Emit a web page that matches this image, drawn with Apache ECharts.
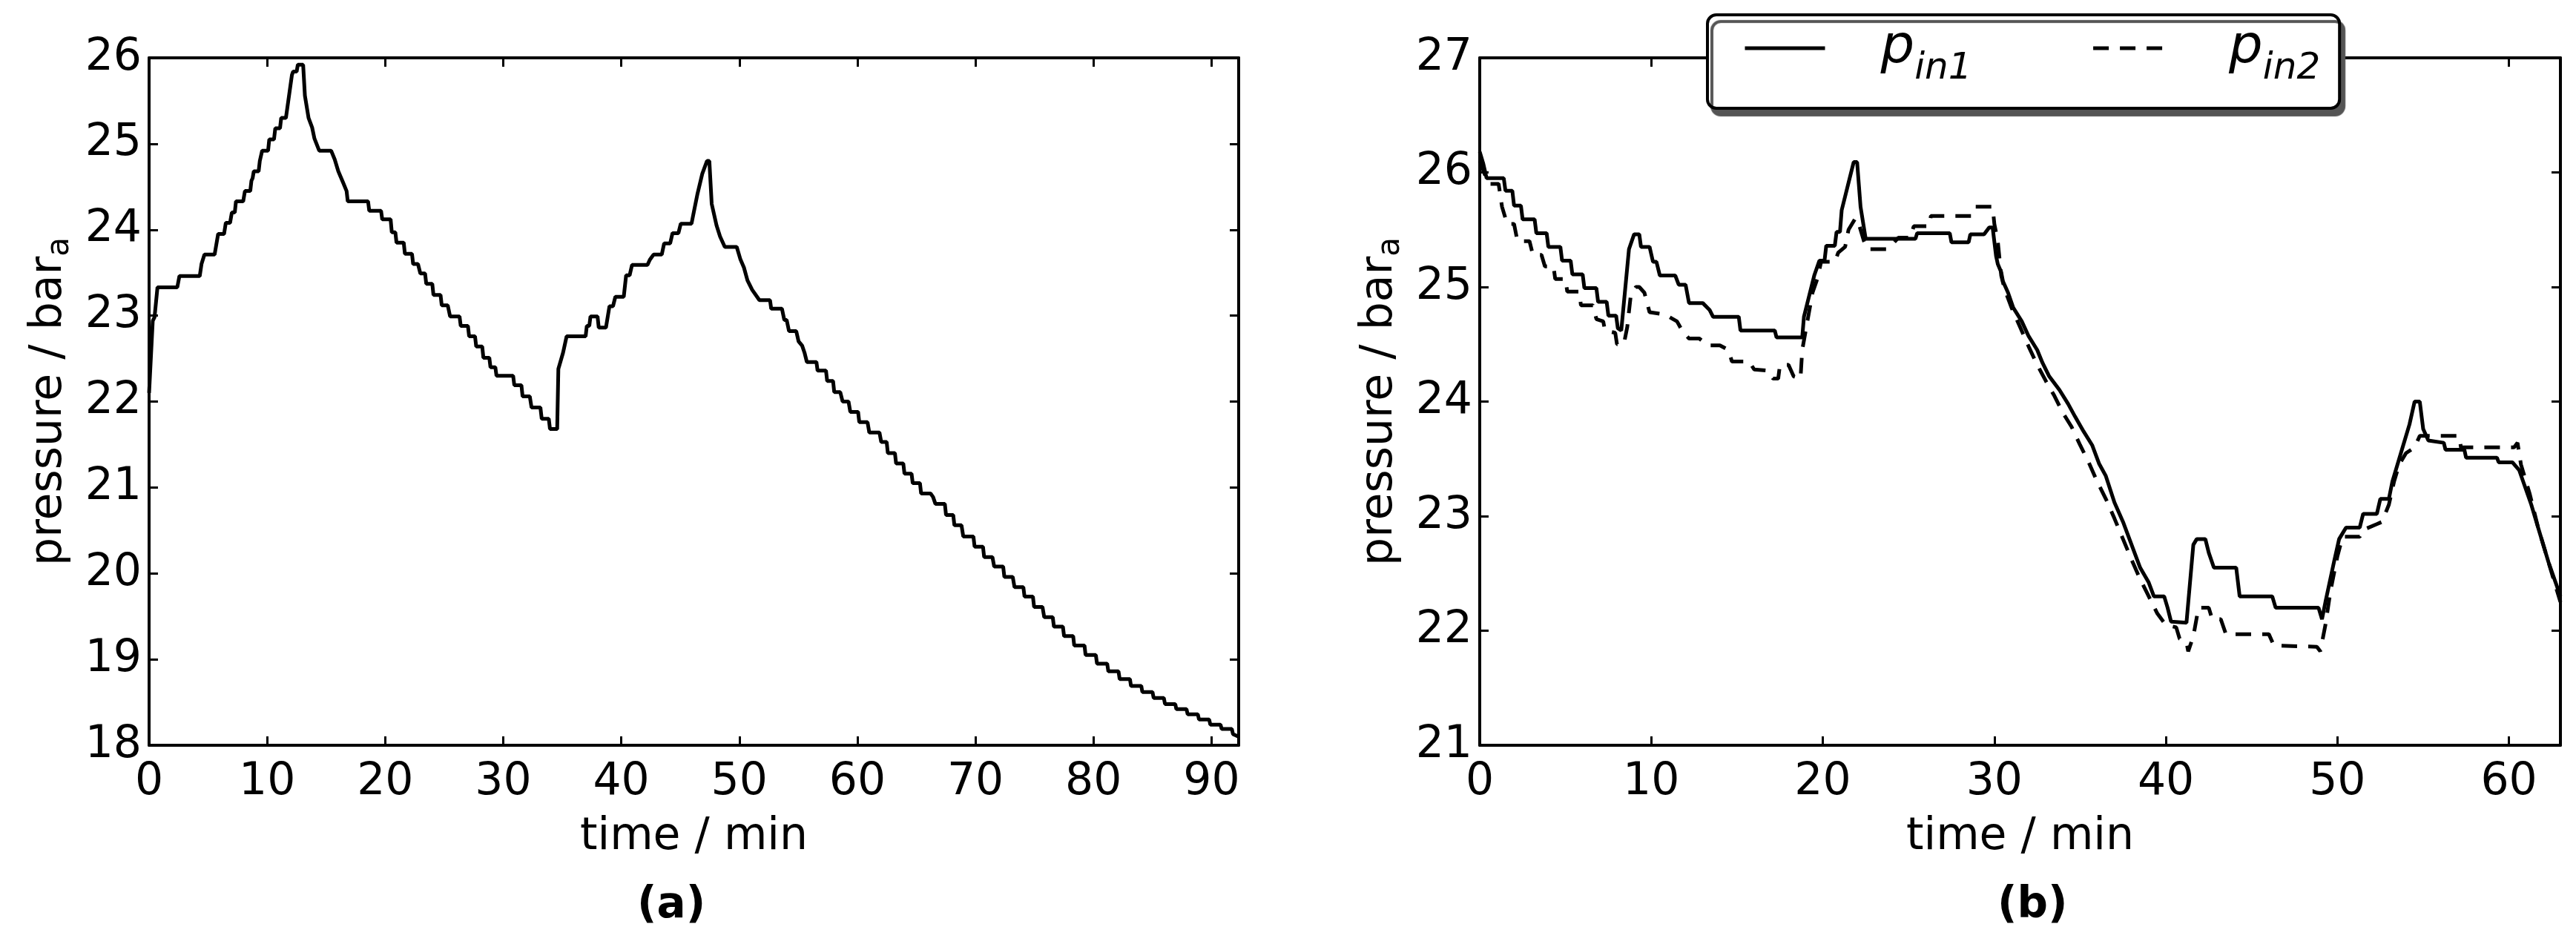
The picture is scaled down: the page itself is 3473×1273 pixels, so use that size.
<!DOCTYPE html>
<html>
<head>
<meta charset="utf-8">
<title>pressure vs time</title>
<script src="https://cdn.jsdelivr.net/npm/echarts@6/dist/echarts.min.js"></script>
<style>
html, body { margin: 0; padding: 0; background: #fff; }
#chart { width: 3473px; height: 1273px; }
</style>
</head>
<body>
<div id="chart"></div>
<script>
// (a) one run, [time / min, pressure / bar_a]
const runA = [
  [0, 22.1], [0.31, 22.94], [0.46, 22.98], [0.71, 23.33], [2.39, 23.33], [2.57, 23.46], [4.29, 23.46],
  [4.44, 23.6], [4.69, 23.71], [5.55, 23.71], [5.7, 23.83], [5.85, 23.95], [6.35, 23.95], [6.5, 24.08],
  [6.86, 24.08], [7.01, 24.2], [7.26, 24.2], [7.36, 24.33], [7.97, 24.33], [8.12, 24.45], [8.57, 24.45],
  [8.67, 24.57], [8.77, 24.6], [8.87, 24.68], [9.28, 24.68], [9.38, 24.8], [9.48, 24.8], [9.58, 24.92],
  [10.08, 24.92], [10.18, 25.05], [10.58, 25.05], [10.69, 25.18], [11.09, 25.18], [11.19, 25.3], [11.59, 25.3],
  [12.1, 25.8], [12.2, 25.84], [12.5, 25.84], [12.6, 25.92], [13.05, 25.92], [13.2, 25.56], [13.51, 25.3],
  [13.81, 25.19], [14.01, 25.06], [14.41, 24.92], [15.42, 24.92], [15.72, 24.82], [16.03, 24.68], [16.43, 24.55],
  [16.73, 24.45], [16.83, 24.33], [18.55, 24.33], [18.65, 24.22], [19.65, 24.22], [19.75, 24.12], [20.46, 24.12],
  [20.56, 23.97], [20.86, 23.97], [20.96, 23.85], [21.57, 23.85], [21.67, 23.72], [22.27, 23.72], [22.37, 23.6],
  [22.78, 23.6], [22.98, 23.49], [23.38, 23.49], [23.48, 23.37], [23.99, 23.37], [24.09, 23.24], [24.69, 23.24],
  [24.79, 23.12], [25.3, 23.12], [25.5, 22.99], [26.3, 22.99], [26.4, 22.88], [27.01, 22.88], [27.11, 22.76],
  [27.61, 22.76], [27.71, 22.64], [28.22, 22.64], [28.32, 22.51], [28.82, 22.51], [28.92, 22.4], [29.33, 22.4],
  [29.43, 22.3], [30.84, 22.3], [30.94, 22.19], [31.54, 22.19], [31.64, 22.06], [32.25, 22.06], [32.4, 21.93],
  [33.15, 21.93], [33.26, 21.8], [33.86, 21.8], [33.96, 21.68], [34.57, 21.68], [34.67, 22.38], [35.07, 22.57],
  [35.37, 22.76], [36.98, 22.76], [37.08, 22.88], [37.29, 22.88], [37.39, 22.99], [37.99, 22.99], [38.09, 22.86],
  [38.7, 22.86], [39.0, 23.11], [39.3, 23.11], [39.5, 23.22], [40.21, 23.22], [40.41, 23.47], [40.71, 23.47],
  [40.91, 23.59], [42.22, 23.59], [42.42, 23.65], [42.73, 23.71], [43.43, 23.71], [43.63, 23.84], [44.14, 23.84],
  [44.34, 23.96], [44.84, 23.96], [45.04, 24.07], [45.95, 24.07], [46.15, 24.21], [46.46, 24.42], [46.86, 24.65],
  [47.26, 24.8], [47.46, 24.8], [47.66, 24.3], [48.07, 24.05], [48.37, 23.92], [48.77, 23.8], [49.78, 23.8],
  [50.08, 23.66], [50.39, 23.56], [50.69, 23.41], [51.09, 23.3], [51.7, 23.18], [52.6, 23.18], [52.7, 23.08],
  [53.61, 23.08], [53.81, 22.95], [54.01, 22.95], [54.21, 22.82], [54.82, 22.82], [55.02, 22.7], [55.32, 22.65],
  [55.52, 22.57], [55.62, 22.57], [55.72, 22.46], [56.53, 22.46], [56.63, 22.36], [57.34, 22.36], [57.44, 22.24],
  [57.94, 22.24], [58.04, 22.11], [58.55, 22.11], [58.75, 22.0], [59.25, 22.0], [59.4, 21.88], [60.06, 21.88],
  [60.16, 21.76], [60.86, 21.76], [61.01, 21.64], [61.87, 21.64], [62.02, 21.53], [62.48, 21.53], [62.58, 21.4],
  [63.18, 21.4], [63.28, 21.28], [63.89, 21.28], [63.99, 21.16], [64.59, 21.16], [64.69, 21.05], [65.3, 21.05],
  [65.4, 20.93], [66.2, 20.93], [66.41, 20.89], [66.61, 20.81], [67.41, 20.81], [67.51, 20.68], [68.12, 20.68],
  [68.22, 20.56], [68.82, 20.56], [68.97, 20.43], [69.83, 20.43], [69.93, 20.31], [70.64, 20.31], [70.74, 20.19],
  [71.44, 20.19], [71.59, 20.08], [72.35, 20.08], [72.45, 19.96], [73.16, 19.96], [73.31, 19.84], [74.06, 19.84],
  [74.16, 19.73], [74.87, 19.73], [74.97, 19.61], [75.68, 19.61], [75.83, 19.49], [76.55, 19.49], [76.65, 19.38],
  [77.41, 19.38], [77.51, 19.27], [78.28, 19.27], [78.37, 19.16], [79.24, 19.16], [79.33, 19.05], [80.2, 19.05],
  [80.3, 18.95], [81.16, 18.95], [81.26, 18.86], [82.12, 18.86], [82.22, 18.77], [83.09, 18.77], [83.18, 18.69],
  [84.05, 18.69], [84.14, 18.62], [85.0, 18.62], [85.1, 18.55], [85.96, 18.55], [86.06, 18.48], [86.93, 18.48],
  [87.02, 18.42], [87.88, 18.42], [87.98, 18.36], [88.84, 18.36], [88.94, 18.3], [89.8, 18.3], [89.9, 18.24],
  [90.76, 18.24], [90.86, 18.19], [91.72, 18.19], [91.82, 18.13], [92.3, 18.1]
];

// (b) inlet pressures, solid = p_in1, dashed = p_in2
const pin1 = [
  [0, 26.18], [0.2, 26.08], [0.4, 25.95], [1.4, 25.95], [1.5, 25.84], [1.9, 25.84], [2.0, 25.71],
  [2.4, 25.71], [2.5, 25.59], [3.2, 25.59], [3.3, 25.47], [3.9, 25.47], [4.0, 25.35], [4.7, 25.35],
  [4.8, 25.23], [5.3, 25.23], [5.4, 25.11], [6.0, 25.11], [6.1, 24.99], [6.8, 24.99], [6.9, 24.87],
  [7.4, 24.87], [7.5, 24.75], [7.95, 24.75], [8.05, 24.64], [8.25, 24.62], [8.7, 25.33], [9.0, 25.46],
  [9.3, 25.46], [9.4, 25.35], [9.9, 25.35], [10.1, 25.22], [10.3, 25.22], [10.5, 25.1], [11.4, 25.1],
  [11.6, 25.02], [12.0, 25.02], [12.2, 24.86], [13.0, 24.86], [13.4, 24.8], [13.6, 24.74], [15.1, 24.74],
  [15.2, 24.62], [17.2, 24.62], [17.3, 24.56], [18.8, 24.56], [18.9, 24.74], [19.3, 24.98], [19.5, 25.1],
  [19.8, 25.23], [20.1, 25.23], [20.2, 25.36], [20.7, 25.36], [20.8, 25.48], [21.0, 25.48], [21.1, 25.67],
  [21.5, 25.91], [21.8, 26.09], [22.0, 26.09], [22.2, 25.7], [22.5, 25.42], [25.4, 25.42], [25.5, 25.47],
  [27.4, 25.47], [27.5, 25.39], [28.5, 25.39], [28.6, 25.46], [29.4, 25.46], [29.7, 25.52], [29.9, 25.52],
  [30.1, 25.27], [30.2, 25.2], [30.4, 25.13], [30.5, 25.05], [30.8, 24.95], [31.1, 24.82], [31.6, 24.7],
  [32.0, 24.57], [32.5, 24.45], [32.8, 24.34], [33.2, 24.22], [33.8, 24.1], [34.3, 23.98], [34.7, 23.87],
  [35.2, 23.74], [35.7, 23.62], [36.1, 23.46], [36.5, 23.35], [37.0, 23.12], [37.5, 22.95], [38.0, 22.75],
  [38.5, 22.55], [39.0, 22.42], [39.3, 22.3], [39.9, 22.3], [40.1, 22.2], [40.3, 22.08], [41.2, 22.07],
  [41.6, 22.75], [41.8, 22.8], [42.3, 22.8], [42.5, 22.68], [42.8, 22.55], [44.1, 22.55], [44.3, 22.3],
  [46.2, 22.3], [46.4, 22.2], [48.9, 22.2], [49.1, 22.1], [49.3, 22.25], [49.8, 22.6], [50.1, 22.8],
  [50.5, 22.9], [51.3, 22.9], [51.5, 23.02], [52.3, 23.02], [52.5, 23.15], [53.0, 23.15], [53.2, 23.3],
  [53.5, 23.45], [53.8, 23.6], [54.2, 23.8], [54.5, 24.0], [54.8, 24.0], [55.0, 23.76], [55.3, 23.66],
  [56.2, 23.64], [56.3, 23.58], [57.4, 23.58], [57.5, 23.51], [59.3, 23.51], [59.4, 23.47], [60.2, 23.47],
  [60.6, 23.4], [61.3, 23.1], [61.7, 22.9], [62.3, 22.6], [63.0, 22.3]
];
const pin2 = [
  [0, 26.1], [0.3, 25.98], [0.5, 25.9], [1.1, 25.9], [1.3, 25.7], [1.6, 25.55], [2.0, 25.55], [2.2, 25.4],
  [2.9, 25.4], [3.1, 25.28], [3.6, 25.28], [3.8, 25.18], [4.3, 25.18], [4.4, 25.07], [5.0, 25.07],
  [5.1, 24.96], [5.8, 24.96], [5.9, 24.84], [6.6, 24.84], [6.8, 24.72], [7.2, 24.7], [7.3, 24.62],
  [7.9, 24.6], [8.0, 24.5], [8.4, 24.5], [8.6, 24.65], [8.8, 24.92], [9.1, 25.0], [9.3, 25.0], [9.6, 24.95],
  [9.9, 24.78], [10.8, 24.76], [11.5, 24.7], [11.8, 24.62], [12.2, 24.55], [12.8, 24.55], [13.3, 24.49],
  [14.0, 24.49], [14.5, 24.45], [14.7, 24.35], [15.7, 24.35], [16.0, 24.28], [16.8, 24.27], [17.1, 24.2],
  [17.4, 24.2], [17.5, 24.32], [18.0, 24.32], [18.3, 24.22], [18.7, 24.2], [18.8, 24.45], [19.1, 24.7],
  [19.4, 24.95], [19.7, 25.08], [19.9, 25.22], [20.7, 25.22], [20.9, 25.3], [21.3, 25.35], [21.5, 25.5],
  [21.9, 25.6], [22.1, 25.55], [22.4, 25.4], [22.6, 25.33], [23.7, 25.33], [24.1, 25.38], [24.4, 25.43],
  [25.1, 25.43], [25.3, 25.53], [26.2, 25.53], [26.3, 25.62], [28.7, 25.62], [28.9, 25.7], [29.9, 25.7],
  [30.0, 25.55], [30.2, 25.4], [30.4, 25.1], [30.6, 24.98], [31.0, 24.82], [31.5, 24.65], [32.0, 24.48],
  [32.5, 24.32], [33.0, 24.18], [33.5, 24.05], [34.0, 23.9], [34.5, 23.78], [35.0, 23.62], [35.5, 23.47],
  [36.0, 23.3], [36.5, 23.15], [37.0, 22.98], [37.5, 22.8], [38.0, 22.62], [38.5, 22.45], [39.0, 22.3],
  [39.5, 22.15], [40.0, 22.05], [40.6, 22.03], [40.8, 21.93], [41.2, 21.9], [41.3, 21.82], [41.6, 21.95],
  [41.9, 22.2], [42.5, 22.2], [42.7, 22.1], [43.2, 22.1], [43.5, 21.97], [46.0, 21.97], [46.3, 21.87],
  [48.8, 21.86], [49.0, 21.82], [49.3, 22.05], [49.6, 22.35], [50.0, 22.65], [50.3, 22.82], [51.3, 22.82],
  [51.5, 22.88], [52.3, 22.93], [52.6, 22.95], [53.0, 23.1], [53.3, 23.3], [53.6, 23.45], [54.0, 23.55],
  [54.5, 23.6], [54.8, 23.7], [57.1, 23.7], [57.2, 23.6], [60.3, 23.6], [60.5, 23.64], [60.7, 23.45],
  [61.2, 23.2], [61.7, 22.9], [62.2, 22.65], [62.5, 22.5], [63.0, 22.25]
];

// axis ranges
const rangeTimeA = [0, 92.3];
const rangePressA = [18, 26];
const rangeTimeB = [0, 63];
const rangePressB = [21, 27];
const panelTitles = ['(a)', '(b)'];
const legendNames = ['p_in1', 'p_in2'];

const FONT = 'DejaVu Sans';
const axisLine = { show: true, onZero: false, lineStyle: { color: '#000', width: 4 } };
const axisTick = { show: true, inside: true, length: 12, lineStyle: { color: '#000', width: 3 } };

function xPair (grid, range) {
  const base = {
    type: 'value', gridIndex: grid, min: range[0], max: range[1], interval: 10,
    axisLine, axisTick, splitLine: { show: false }
  };
  return [
    Object.assign({}, base, {
      position: 'bottom',
      name: 'time / min', nameLocation: 'middle', nameGap: 94,
      nameTextStyle: { fontFamily: FONT, fontSize: 60, color: '#000' },
      axisLabel: { fontFamily: FONT, fontSize: 60, color: '#000', margin: 20, showMaxLabel: false }
    }),
    Object.assign({}, base, { position: 'top', axisLabel: { show: false } })
  ];
}

function yPair (grid, range) {
  const base = {
    type: 'value', gridIndex: grid, min: range[0], max: range[1], interval: 1,
    axisLine, axisTick, splitLine: { show: false }
  };
  return [
    Object.assign({}, base, {
      position: 'left',
      name: '{t|pressure / bar}{s|a}', nameLocation: 'middle', nameRotate: 90, nameGap: 99,
      nameTextStyle: {
        fontFamily: FONT, fontSize: 60, color: '#000',
        rich: {
          t: { fontFamily: FONT, fontSize: 60, lineHeight: 72, color: '#000' },
          s: { fontFamily: FONT, fontSize: 42, lineHeight: 42, verticalAlign: 'bottom', color: '#000' }
        }
      },
      axisLabel: { fontFamily: FONT, fontSize: 60, color: '#000', margin: 10 }
    }),
    Object.assign({}, base, { position: 'right', axisLabel: { show: false } })
  ];
}

const chart = echarts.init(document.getElementById('chart'));

chart.setOption({
  animation: false,
  backgroundColor: '#fff',
  title: [
    { text: panelTitles[0], left: 859, top: 1193, padding: 0, textStyle: { fontFamily: FONT, fontSize: 58, fontWeight: 'bold', color: '#000' } },
    { text: panelTitles[1], left: 2693, top: 1193, padding: 0, textStyle: { fontFamily: FONT, fontSize: 58, fontWeight: 'bold', color: '#000' } }
  ],
  grid: [
    { left: 201, top: 78, width: 1469, height: 927 },
    { left: 1995, top: 78, width: 1457, height: 927 }
  ],
  xAxis: [...xPair(0, rangeTimeA), ...xPair(1, rangeTimeB)],
  yAxis: [...yPair(0, rangePressA), ...yPair(1, rangePressB)],
  legend: {
    left: 2302, top: 20, orient: 'horizontal',
    itemWidth: 108, itemHeight: 10, itemGap: 161,
    padding: [9, 26, 28, 48],
    backgroundColor: '#fff', borderColor: '#000', borderWidth: 4, borderRadius: 12,
    shadowColor: '#555', shadowBlur: 1, shadowOffsetX: 6, shadowOffsetY: 9,
    itemStyle: { opacity: 0 },
    lineStyle: { width: 5, color: '#000' },
    data: legendNames,
    formatter: name => '{p|p}{s|' + name.split('_')[1] + '}',
    textStyle: {
      rich: {
        p: { fontFamily: FONT, fontStyle: 'italic', fontSize: 72, lineHeight: 106, color: '#000', padding: [0, 0, 0, 70] },
        s: { fontFamily: FONT, fontStyle: 'italic', fontSize: 50, lineHeight: 50, verticalAlign: 'bottom', color: '#000' }
      }
    }
  },
  series: [
    {
      name: 'run', type: 'line', xAxisIndex: 0, yAxisIndex: 0, data: runA,
      symbol: 'none', lineStyle: { color: '#000', width: 5 }
    },
    {
      name: legendNames[0], type: 'line', xAxisIndex: 2, yAxisIndex: 2, data: pin1,
      symbol: 'none', lineStyle: { color: '#000', width: 5 }
    },
    {
      name: legendNames[1], type: 'line', xAxisIndex: 2, yAxisIndex: 2, data: pin2,
      symbol: 'none', lineStyle: { color: '#000', width: 5, type: [21, 15] }
    }
  ]
});
</script>
</body>
</html>
